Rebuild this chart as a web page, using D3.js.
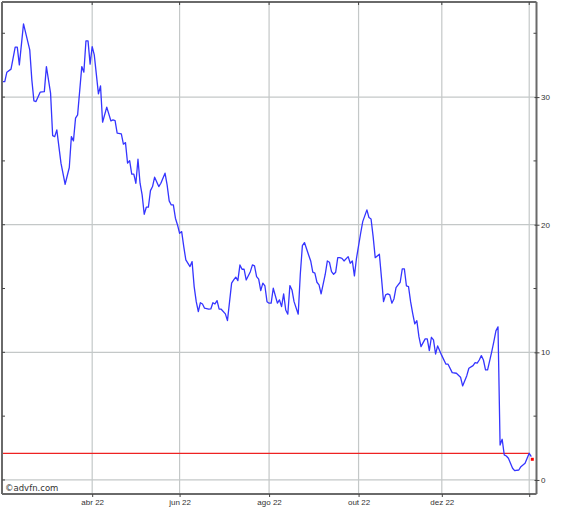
<!DOCTYPE html>
<html><head><meta charset="utf-8">
<script src="https://cdn.jsdelivr.net/npm/d3@7"></script>
<style>body{margin:0;background:#fff}svg{display:block}</style>
</head><body><svg id="c" width="567" height="508"></svg>
<script>
// trading-session index (0 = first session shown) and closing price
const sessions = [
  0,1,2,4,6,7,8,10,13,14,
  15,16,18,20,21,23,24,25,26,28,
  30,32,33,34,35,36,38,39,40,41,
  42,43,44,46,47,48,50,52,53,54,
  55,57,58,59,60,61,62,63,64,65,
  66,67,68,69,70,71,72,73,75,76,
  78,79,80,81,82,83,84,85,86,87,
  88,90,91,92,93,94,95,96,97,99,
  100,101,102,103,104,105,107,108,110,111,
  112,113,114,115,116,117,119,120,121,122,
  123,124,125,126,127,128,129,130,132,133,
  134,135,136,137,138,139,140,142,143,144,
  145,147,148,149,150,151,152,153,155,156,
  157,158,159,160,161,162,163,164,166,167,
  168,169,170,172,173,175,176,177,178,179,
  181,182,183,184,185,186,187,188,189,190,
  191,192,193,194,195,196,197,198,199,200,
  201,203,204,205,206,207,208,209,211,213,
  214,216,218,220,221,223,224,226,227,228,
  229,230,231,232,233,235,236,237,238,239,
  240,241,242,243,245,246,248,249,251,252,
  253,254
];
const prices = [
  31.21,31.21,31.95,32.19,33.91,33.91,32.52,35.74,33.70,31.35,
  29.70,29.65,30.38,30.43,32.39,30.31,26.98,26.90,27.43,24.82,
  23.17,24.48,26.90,26.57,28.35,28.61,32.39,31.95,34.40,34.40,
  32.58,33.96,33.31,30.25,30.88,28.03,29.21,28.13,28.21,28.16,
  27.17,27.12,26.31,26.43,24.82,25.02,23.96,23.96,23.25,25.13,
  23.25,22.34,20.82,21.37,21.37,22.67,22.99,23.72,22.99,23.25,
  24.04,23.12,21.87,21.55,21.55,20.51,19.98,19.33,19.46,18.28,
  17.24,16.72,17.11,15.15,13.97,13.19,13.89,13.79,13.46,13.38,
  13.40,13.89,13.79,14.05,13.38,13.38,13.01,12.48,15.42,15.67,
  15.89,15.62,16.85,16.51,16.51,15.67,16.32,16.85,16.77,15.93,
  15.73,14.84,15.42,15.20,13.97,13.85,13.85,15.02,13.85,14.11,
  13.58,14.58,13.32,12.99,15.23,14.89,13.97,12.99,16.12,18.36,
  18.60,17.63,17.16,16.28,16.20,15.49,15.28,14.58,16.12,17.16,
  17.06,16.32,16.12,16.28,17.42,17.42,17.37,17.16,17.50,16.98,
  17.16,15.99,17.37,19.33,20.24,21.16,20.56,20.45,19.07,17.42,
  17.69,15.85,13.97,14.50,14.58,14.50,13.85,14.18,15.07,15.28,
  15.49,16.54,16.54,15.20,15.15,13.97,13.06,12.23,12.48,11.23,
  10.45,11.05,11.05,10.13,11.18,10.97,9.87,10.50,9.74,9.07,
  9.07,8.41,8.36,8.05,7.37,8.17,8.75,8.96,9.19,9.15,
  9.40,9.74,9.40,8.62,8.62,10.05,10.84,11.68,12.00,2.74,
  3.19,1.96,1.88,1.70,0.92,0.73,0.78,1.04,1.31,1.70,
  2.09,1.83
];
const monthTickSessions = [43, 85, 128, 171, 211, 253];
const monthTickLabels = ["abr 22", "jun 22", "ago 22", "out 22", "dez 22", ""];
const priceTicks = [0, 10, 20, 30];
const minorPriceTicks = [5, 15, 25, 35];
const priceDomain = [-1.1, 37.45];
const referenceLevel = 2.09;
const lastMarkerValue = 1.62;
const copyright = "©advfn.com";

const svg = d3.select("#c");
const L = 2, R = 536.5, T = 2, B = 494;
const x = d3.scaleLinear().domain([0, 254]).range([2.7, 531.3]);
const y = d3.scaleLinear().domain(priceDomain).range([B, T]);
const data = sessions.map((s, i) => ({s, p: prices[i]}));

const grid = svg.append("g").attr("stroke", "#c4c8c8").attr("stroke-width", 1.2);
grid.selectAll("line.h").data(priceTicks).join("line")
  .attr("x1", L).attr("x2", R).attr("y1", d => y(d)).attr("y2", d => y(d));
grid.selectAll("line.v").data(monthTickSessions).join("line")
  .attr("y1", T).attr("y2", B).attr("x1", d => x(d)).attr("x2", d => x(d));

// reference level
svg.append("line").attr("x1", L).attr("x2", x(253))
  .attr("y1", y(referenceLevel)).attr("y2", y(referenceLevel))
  .attr("stroke", "#ee2222").attr("stroke-width", 1.2);

// price line
svg.append("path").datum(data)
  .attr("fill", "none").attr("stroke", "#3535ff").attr("stroke-width", 1.3)
  .attr("stroke-linejoin", "round")
  .attr("d", d3.line().x(d => x(d.s)).y(d => y(d.p)));

svg.append("rect").attr("x", x(254) - 0.5).attr("y", y(lastMarkerValue) - 1.5)
  .attr("width", 3).attr("height", 3).attr("fill", "#ff0000");

// frame
const frame = svg.append("g").attr("stroke", "#6a6a6a").attr("stroke-width", 2);
frame.append("line").attr("x1", L).attr("x2", R).attr("y1", T).attr("y2", T);
frame.append("line").attr("x1", L).attr("x2", R).attr("y1", B).attr("y2", B);
frame.append("line").attr("x1", L).attr("x2", L).attr("y1", T).attr("y2", B);
frame.append("line").attr("x1", R).attr("x2", R).attr("y1", T).attr("y2", B);

const tk = svg.append("g").attr("stroke", "#444").attr("stroke-width", 1);
const allPrice = priceTicks.concat(minorPriceTicks);
tk.selectAll("line.l").data(allPrice).join("line")
  .attr("x1", L).attr("x2", L + 3).attr("y1", d => y(d)).attr("y2", d => y(d));
tk.selectAll("line.r").data(minorPriceTicks).join("line")
  .attr("x1", R - 3).attr("x2", R).attr("y1", d => y(d)).attr("y2", d => y(d));
tk.selectAll("line.t").data(monthTickSessions).join("line")
  .attr("x1", d => x(d)).attr("x2", d => x(d)).attr("y1", T).attr("y2", T + 3);

// axes
const yAxis = d3.axisRight(y).tickValues(priceTicks).tickSize(3).tickPadding(1.5).tickFormat(d3.format("d"));
const ga = svg.append("g").attr("transform", `translate(${R},0)`).call(yAxis);
const xAxis = d3.axisBottom(x).tickValues(monthTickSessions).tickSize(3).tickPadding(2)
  .tickFormat((d, i) => monthTickLabels[i]);
const gb = svg.append("g").attr("transform", `translate(0,${B})`).call(xAxis);
[ga, gb].forEach(g => {
  g.select(".domain").remove();
  g.selectAll(".tick line").attr("stroke", "#444");
  g.selectAll(".tick text").attr("fill", "#333").style("font", "8px 'Liberation Sans', Arial, sans-serif");
});
ga.selectAll(".tick line").attr("x1", -2);

svg.append("text").attr("x", 5).attr("y", 491).text(copyright)
  .attr("fill", "#333").style("font", "8.5px 'DejaVu Sans', Verdana, sans-serif");
</script>
</body></html>
